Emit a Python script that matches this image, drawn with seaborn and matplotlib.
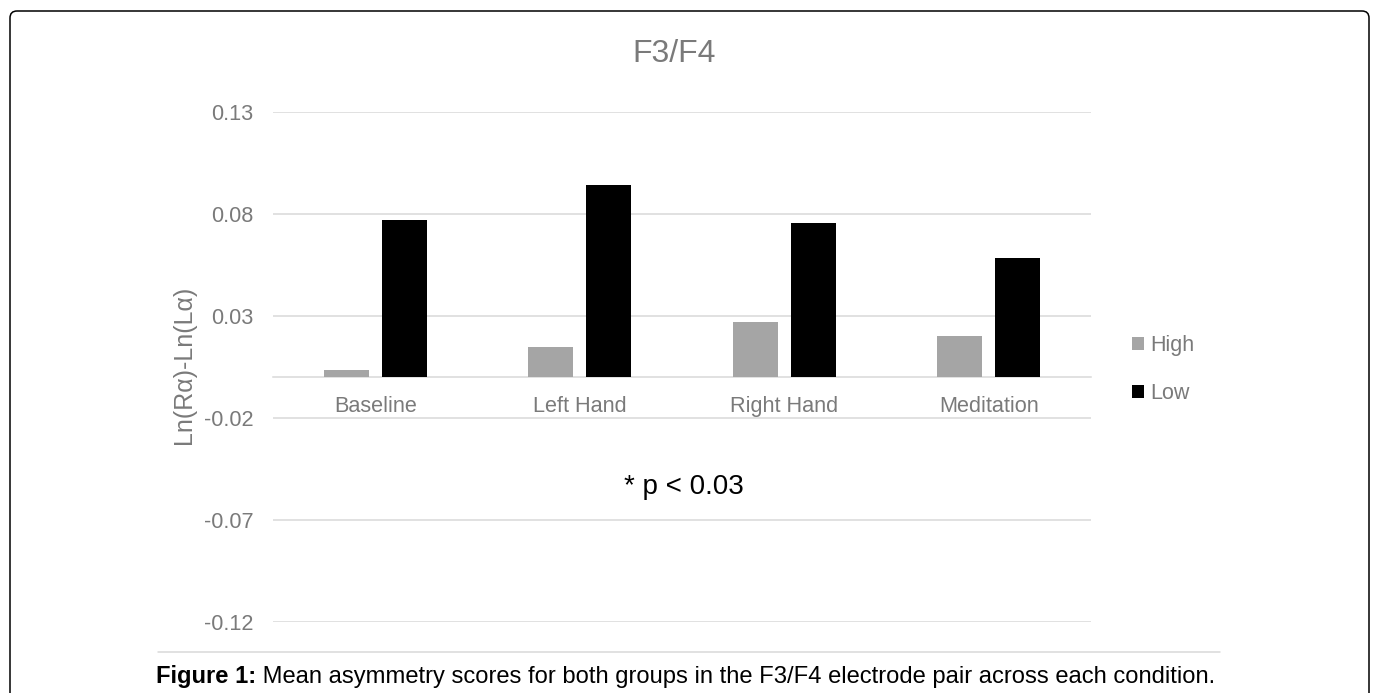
import matplotlib
matplotlib.use("Agg")
import matplotlib.pyplot as plt
import seaborn as sns
import pandas as pd
from matplotlib.patches import FancyBboxPatch
from matplotlib.lines import Line2D
from matplotlib.transforms import IdentityTransform

# ---- data ----
conditions = ["Baseline", "Left Hand", "Right Hand", "Meditation"]
groups = ["High", "Low"]
high_values = [0.0036, 0.0147, 0.0273, 0.0201]
low_values = [0.0773, 0.0943, 0.0754, 0.0583]
y_ticks = [-0.12, -0.07, -0.02, 0.03, 0.08, 0.13]
y_tick_labels = ["-0.12", "-0.07", "-0.02", "0.03", "0.08", "0.13"]
title_text = "F3/F4"
y_label_text = "Ln(Rα)-Ln(Lα)"
note_text = "* p < 0.03"
caption_bold = "Figure 1:"
caption_rest = " Mean asymmetry scores for both groups in the F3/F4 electrode pair across each condition."

df = pd.DataFrame({
    "condition": conditions * 2,
    "group": [groups[0]] * len(conditions) + [groups[1]] * len(conditions),
    "value": high_values + low_values,
})

sns.set_theme(style="white")
plt.rcParams["font.family"] = ["Liberation Sans", "DejaVu Sans"]

W, H = 1376, 693
fig = plt.figure(figsize=(W / 100, H / 100), dpi=100)
fig.patch.set_facecolor("white")

def fx(px):
    return px / W

def fy(py):
    return 1 - py / H

ax = fig.add_axes([fx(273), fy(622), fx(1091) - fx(273), fy(112) - fy(622)])
ax.set_facecolor("white")

sns.barplot(data=df, x="condition", y="value", hue="group", order=conditions,
            hue_order=groups, palette=["#A5A5A5", "#000000"], width=0.57, gap=0.23,
            errorbar=None, linewidth=0, ax=ax, legend=True, zorder=3)

text_gray = "#7a7a7a"
ax.set_ylim(-0.12, 0.13)
ax.set_yticks(y_ticks)
ax.set_yticklabels(y_tick_labels)
ax.set_xlim(-0.5, len(conditions) - 0.5)
ax.yaxis.grid(True, color="#D9D9D9", linewidth=1.1, zorder=0)
ax.xaxis.grid(False)
ax.set_axisbelow(True)
for s in ["top", "right", "left"]:
    ax.spines[s].set_visible(False)
ax.spines["bottom"].set_position(("data", 0))
ax.spines["bottom"].set_color("#D9D9D9")
ax.spines["bottom"].set_linewidth(1.1)
ax.tick_params(axis="y", length=0, pad=14, labelsize=15.6, labelcolor=text_gray)
ax.tick_params(axis="x", length=0, pad=13.5, labelsize=15.6, labelcolor=text_gray)
ax.set_xlabel("")
ax.set_ylabel(y_label_text, fontsize=18, color=text_gray)
ax.yaxis.set_label_coords(-0.094, 0.505)

# legend
leg = ax.get_legend()
handles = leg.legend_handles
leg.remove()
fig.legend(handles, groups, loc="center left", bbox_to_anchor=(fx(1132), fy(369.5)),
           frameon=False, fontsize=15.5, labelcolor=text_gray, borderpad=0,
           borderaxespad=0, handlelength=0.55, handleheight=0.55,
           handletextpad=0.32, labelspacing=1.28)

# title and note
fig.text(fx(674), fy(54), title_text, ha="center", va="center", fontsize=23, color=text_gray)
fig.text(fx(684), fy(487), note_text, ha="center", va="center", fontsize=20, color="black")

# separator line
fig.add_artist(Line2D([fx(158), fx(1220)], [fy(652), fy(652)], transform=fig.transFigure,
                      color="#D9D9D9", linewidth=1.1))

# caption, fitted to width
fig.canvas.draw()
renderer = fig.canvas.get_renderer()
x0 = 156
target_w = 1213 - x0
fs = 14
t1 = fig.text(fx(x0), fy(677), caption_bold, ha="left", va="center", fontsize=fs,
              fontweight="bold", color="black")
t2 = fig.text(fx(x0), fy(677), caption_rest, ha="left", va="center", fontsize=fs, color="black")
for _ in range(3):
    w = t1.get_window_extent(renderer).width + t2.get_window_extent(renderer).width
    fs = fs * target_w / w
    t1.set_fontsize(fs)
    t2.set_fontsize(fs)
w1 = t1.get_window_extent(renderer).width
t2.set_x(fx(x0 + w1))

# outer rounded border
border = FancyBboxPatch((10, -30), 1359, H - 11 + 30,
                        boxstyle="round,pad=0,rounding_size=7",
                        transform=IdentityTransform(), fill=False,
                        edgecolor="black", linewidth=1.1)
fig.add_artist(border)

fig.savefig("out.png", dpi=100)
